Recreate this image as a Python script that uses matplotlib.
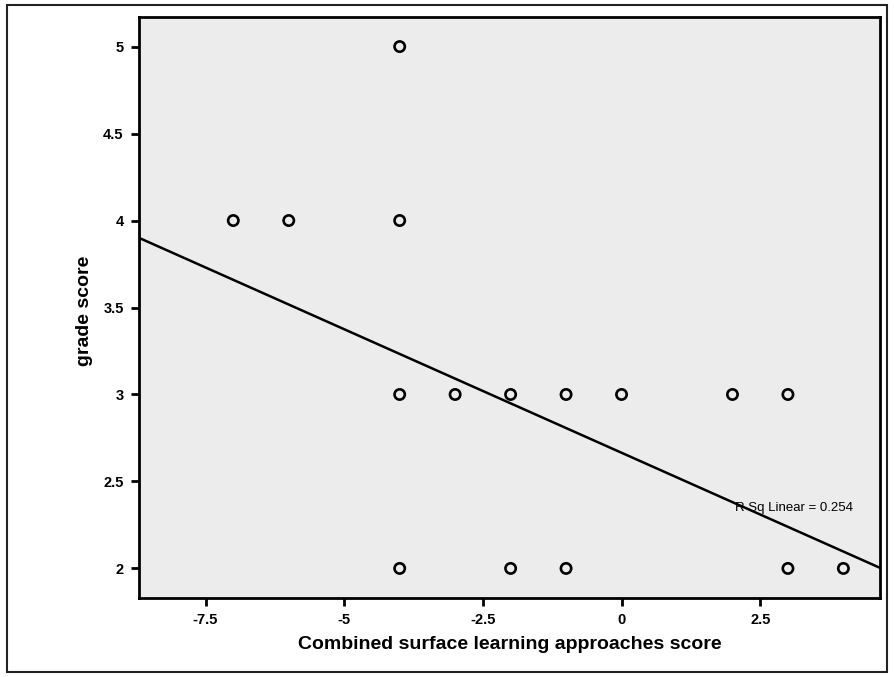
import matplotlib.pyplot as plt
from matplotlib.patches import Rectangle

# combined surface learning approaches score vs grade score
surface_score = [-4, -7, -6, -4, -4, -3, -2, -1, 0, 2, 3, -4, -2, -1, 3, 4]
grade_score = [5, 4, 4, 4, 3, 3, 3, 3, 3, 3, 3, 2, 2, 2, 2, 2]

# fit line as drawn in the original (R Sq Linear = 0.254)
fit_intercept = 2.665
fit_slope = -0.142
fit_x = [-8.7, 4.66]
r_sq_label = "R Sq Linear = 0.254"

x_ticks = [-7.5, -5, -2.5, 0, 2.5]
x_tick_labels = ["-7.5", "-5", "-2.5", "0", "2.5"]
y_ticks = [2, 2.5, 3, 3.5, 4, 4.5, 5]
y_tick_labels = ["2", "2.5", "3", "3.5", "4", "4.5", "5"]

plt.rcParams["font.family"] = ["Liberation Sans", "DejaVu Sans"]

fig = plt.figure(figsize=(8.94, 6.77), dpi=100)
fig.patch.set_facecolor("white")

# outer frame of the scanned figure
fig.patches.append(Rectangle((7 / 894, 5 / 677), 880 / 894, 667 / 677,
                             transform=fig.transFigure, fill=False,
                             edgecolor="#222222", linewidth=1.5))

ax = fig.add_axes([139 / 894, 1 - 598 / 677, 741 / 894, 581 / 677])
ax.set_facecolor("#ececec")

ax.scatter(surface_score, grade_score, s=55, facecolors="none",
           edgecolors="black", linewidths=1.9, zorder=3)

fit_y = [fit_intercept + fit_slope * v for v in fit_x]
ax.plot(fit_x, fit_y, color="black", linewidth=1.8, zorder=2)

ax.text(4.18, 2.35, r_sq_label, fontsize=9.5, ha="right", va="center")

ax.set_xlim(-8.7, 4.66)
ax.set_ylim(1.83, 5.17)

ax.set_xticks(x_ticks)
ax.set_xticklabels(x_tick_labels, fontweight="bold", fontsize=10.5)
ax.set_yticks(y_ticks)
ax.set_yticklabels(y_tick_labels, fontweight="bold", fontsize=10.5)
ax.tick_params(direction="out", length=6, width=2, pad=5)

for side in ["left", "bottom", "top", "right"]:
    ax.spines[side].set_linewidth(2)

ax.set_xlabel("Combined surface learning approaches score", fontsize=14,
              fontweight="bold", labelpad=6)
ax.set_ylabel("grade score", fontsize=14, fontweight="bold")
ax.yaxis.set_label_coords(-0.062, 0.494)

fig.savefig("out.png", dpi=100)
